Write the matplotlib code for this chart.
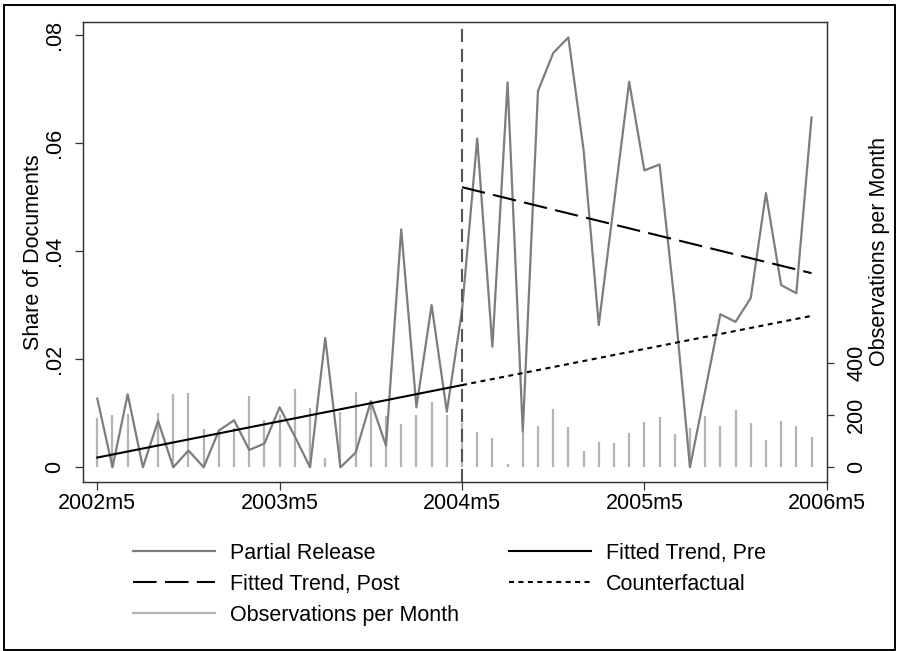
import numpy as np
import matplotlib
matplotlib.use('Agg')
import matplotlib.pyplot as plt
from matplotlib.lines import Line2D
from matplotlib.patches import Rectangle

plt.rcParams['font.family'] = ['Liberation Sans', 'DejaVu Sans']
plt.rcParams['lines.scale_dashes'] = False

# ---- data ----
month_idx = list(range(48))  # 0 = 2002m5 ... 47 = 2006m4
share = [0.0127, 0.0, 0.0135, 0.0, 0.0086, 0.0, 0.0031, 0.0, 0.0068, 0.0087,
         0.0032, 0.0044, 0.0111, 0.0057, 0.0, 0.0239, 0.0, 0.0027, 0.0122, 0.0040,
         0.0440, 0.0111, 0.0300, 0.0103, 0.0290, 0.0608, 0.0223, 0.0712, 0.0066, 0.0696,
         0.0766, 0.0795, 0.0587, 0.0263, 0.0488, 0.0713, 0.0549, 0.0560, 0.0302, 0.0,
         0.0141, 0.0283, 0.0269, 0.0313, 0.0507, 0.0337, 0.0322, 0.0647]
obs = [188, 201, 203, 5, 207, 280, 284, 147, 144, 150,
       274, 182, 200, 300, 226, 37, 213, 290, 258, 196,
       167, 201, 252, 200, 170, 134, 114, 12, 135, 158,
       224, 153, 63, 97, 93, 132, 174, 194, 129, 150,
       198, 158, 220, 169, 104, 178, 158, 116]
pre_x = [0, 24]
pre_y = [0.0018, 0.0152]
post_x = [24, 47]
post_y = [0.0518, 0.0359]
cf_x = [24, 47]
cf_y = [0.0152, 0.0280]
break_month = 24
xtick_pos = [0, 12, 24, 36, 48]
xtick_labels = ['2002m5', '2003m5', '2004m5', '2005m5', '2006m5']
yl_ticks = [0, 0.02, 0.04, 0.06, 0.08]
yl_labels = ['0', '.02', '.04', '.06', '.08']
yr_ticks = [0, 200, 400]
yr_labels = ['0', '200', '400']

FS = 15.5
fig = plt.figure(figsize=(8.99, 6.51), dpi=100)
ax = fig.add_axes([0.0920, 0.2601, 0.8276, 0.7061])
ax2 = ax.twinx()
ax.set_zorder(ax2.get_zorder() + 1)
ax.patch.set_visible(False)

c_share = '#7d7d7d'
c_obs = '#b3b3b8'

ax2.vlines(month_idx, 0, obs, color=c_obs, lw=1.6)
l_share, = ax.plot(month_idx, share, color=c_share, lw=1.6)
l_pre, = ax.plot(pre_x, pre_y, color='black', lw=1.5)
l_post, = ax.plot(post_x, post_y, color='black', lw=1.5, dashes=(17, 6))
l_cf, = ax.plot(cf_x, cf_y, color='black', lw=1.5, dashes=(3.6, 3.2))
ax.axvline(break_month, color='#555555', lw=1.5, dashes=(9.4, 5))

ax.set_xlim(-0.96, 48.0)
ax.set_ylim(-0.00266, 0.08235)
ax2.set_ylim(-55.3, 1709)

ax.set_xticks(xtick_pos, xtick_labels, fontsize=FS)
ax.set_yticks(yl_ticks, yl_labels, fontsize=FS, rotation=90, va='center')
ax2.set_yticks(yr_ticks, yr_labels, fontsize=FS, rotation=90, va='center')

ax.tick_params(axis='x', length=5.5, width=0.9, pad=3, color='#333333')
ax.tick_params(axis='y', length=5.5, width=0.9, pad=7, color='#333333')
ax2.tick_params(axis='y', length=5, width=0.9, pad=9, color='#333333')

for a in (ax, ax2):
    for s in a.spines.values():
        s.set_linewidth(0.9)
        s.set_color('#333333')

ax.set_ylabel('Share of Documents', fontsize=FS, labelpad=0)
ax2.set_ylabel('Observations per Month', fontsize=FS, labelpad=1, rotation=90)

# legend (column-major fill: col1 = Partial, Post, Obs; col2 = Pre, Counterfactual)
h_obs = Line2D([], [], color=c_obs, lw=1.6)
handles = [l_share, l_post, h_obs, l_pre, l_cf]
labels = ['Partial Release', 'Fitted Trend, Post', 'Observations per Month',
          'Fitted Trend, Pre', 'Counterfactual']
fig.legend(handles, labels, ncol=2, loc='upper left',
           bbox_to_anchor=(133 / 899, 1 - 543 / 651), frameon=False,
           fontsize=FS, handlelength=3.8, handletextpad=0.7, columnspacing=2.33,
           labelspacing=0.46, borderpad=0, borderaxespad=0)

fig.add_artist(Rectangle((4 / 899, 1 - 650 / 651), 891 / 899, 645 / 651,
                         transform=fig.transFigure, fill=False, lw=1.4,
                         edgecolor='black'))

fig.savefig('out.png', dpi=100)
